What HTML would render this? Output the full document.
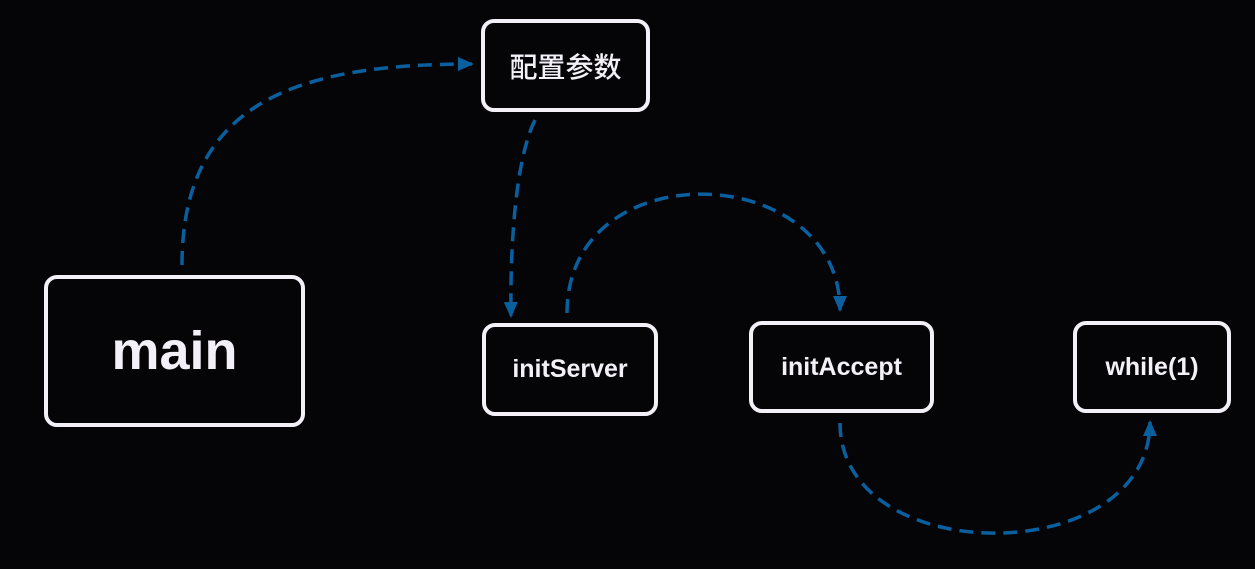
<!DOCTYPE html>
<html><head><meta charset="utf-8"><style>
html,body{margin:0;padding:0;background:#050508;width:1255px;height:569px;overflow:hidden}
.b{position:absolute;box-sizing:border-box;border:4px solid #f3f1f7;border-radius:13px;background:#050508;color:#f3f1f7;display:flex;align-items:center;justify-content:center;font-family:"Liberation Sans","Noto Sans CJK SC",sans-serif;font-weight:bold}
</style></head><body>
<svg width="1255" height="569" style="position:absolute;left:0;top:0">
<defs>
<marker id="m" markerWidth="16" markerHeight="16" refX="14" refY="8" orient="auto" markerUnits="userSpaceOnUse"><path d="M0,1 L16,8 L0,15 z" fill="#0a5f9e"/></marker></defs>
<g fill="none" stroke="#0a5f9e" stroke-width="3.5" stroke-dasharray="14,8">
<path d="M182,265 C182,100 300,64 472,64" marker-end="url(#m)"/>
<path d="M535,120 C515,160 510,250 511,316" marker-end="url(#m)"/>
<path d="M567,313 C567,150 840,160 840,310" marker-end="url(#m)"/>
<path d="M840,423 C840,570 1150,570 1150,422" marker-end="url(#m)"/>
</g></svg>
<div class="b" style="left:44px;top:275px;width:261px;height:152px;font-size:54px">main</div>
<div class="b" style="left:481px;top:19px;width:169px;height:93px;font-size:28px;font-weight:500">配置参数</div>
<div class="b" style="left:482px;top:323px;width:176px;height:93px;font-size:25px">initServer</div>
<div class="b" style="left:749px;top:321px;width:185px;height:92px;font-size:25px">initAccept</div>
<div class="b" style="left:1073px;top:321px;width:158px;height:92px;font-size:25px">while(1)</div>
</body></html>
